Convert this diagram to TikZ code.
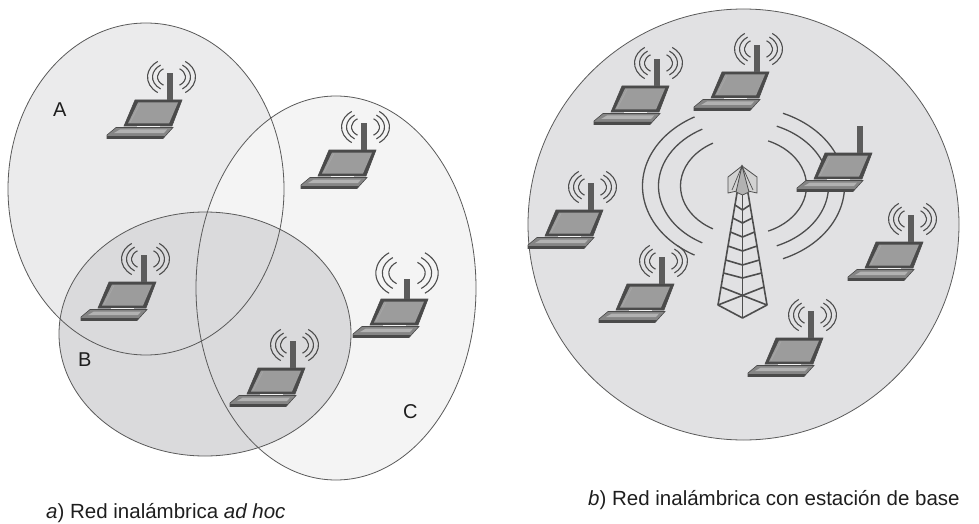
\documentclass[tikz,border=0pt]{standalone}
\usepackage{fontspec}
\setmainfont{Liberation Sans}
\definecolor{edge}{HTML}{5A5A5A}
\definecolor{fillA}{HTML}{EBEBEC}
\definecolor{fillB}{HTML}{DADADC}
\definecolor{fillC}{HTML}{F4F4F4}
\definecolor{fillD}{HTML}{E1E1E3}
\definecolor{ink}{HTML}{4D4D4D}
\definecolor{lidframe}{HTML}{4A4A4A}
\definecolor{screencol}{HTML}{9C9C9C}
\definecolor{keyscol}{HTML}{B2B2B2}
\definecolor{basecol}{HTML}{858585}
\definecolor{mastcol}{HTML}{5C5C5C}
\definecolor{textcol}{HTML}{1E1E1E}
\begin{document}
\begin{tikzpicture}[x=1pt, y=-1pt,
  zone/.style={draw=edge, line width=0.8},
  wave/.style={draw=ink, line width=1.1},
  towerline/.style={draw=ink, line width=1.6, line join=round},
  label/.style={anchor=base west, inner sep=0, text=textcol, font=\fontsize{20}{24}\selectfont},
  caption/.style={anchor=base west, inner sep=0, text=textcol, font=\fontsize{20.5}{24}\selectfont},
  pics/laptop/.style={code={
    % lid with its screen
    \filldraw[fill=lidframe, draw=lidframe, line width=0.6] (-35,0) -- (12,0) -- (2,26) -- (-46,26) -- cycle;
    \fill[screencol] (-32,2.5) -- (8,2.5) -- (-1,23.5) -- (-42,23.5) -- cycle;
    \draw[gray!70, line width=0.8] (-30,3.5) -- (-40,22.5);
    \fill[white!88!gray] (-33,26) rectangle (-10,27.5);
    % base with keyboard
    \filldraw[fill=basecol, draw=lidframe, line width=0.6] (-54,27.5) -- (3,27.5) -- (-7,38.5) -- (-63,38.5) -- (-63,35) -- cycle;
    \fill[keyscol] (-50,29.5) -- (-3,29.5) -- (-6,33) -- (-56,33) -- cycle;
    \fill[lidframe] (-63,36) -- (-5,36) -- (-7,38.5) -- (-63,38.5) -- cycle;
  }},
  pics/mast/.style={code={\fill[mastcol] (-3,-#1) rectangle (3,0);}},
  pics/waves/.style={code={
    \foreach \r/\s in {14/10, 19/14.5, 24/19} {
      \draw[wave] ({\r*cos(125)},{\s*sin(125)}) arc[start angle=125, end angle=235, x radius=\r, y radius=\s];
      \draw[wave] ({\r*cos(55)},{\s*sin(55)}) arc[start angle=55, end angle=-55, x radius=\r, y radius=\s];
    }
  }}
]
\useasboundingbox (0,0) rectangle (979,524);

% ---------- a) ad hoc network: three overlapping ranges ----------
\fill[fillA] (146,189) ellipse[x radius=138, y radius=166];
\fill[fillC] (336,288) ellipse[x radius=140, y radius=192];
\fill[fillB] (205,334) ellipse[x radius=146, y radius=122];
\draw[zone] (146,189) ellipse[x radius=138, y radius=166];
\draw[zone] (336,288) ellipse[x radius=140, y radius=192];
\draw[zone] (205,334) ellipse[x radius=146, y radius=122];

\foreach \px/\py in {170/100, 364/150, 144/282, 293/368} {
  \pic at (\px,\py) {laptop};
  \pic at (\px,\py) {mast=27};
  \pic at (\px+1.5,\py-23) {waves};
}
\pic at (416,299) {laptop};
\pic at (407,299) {mast=20};
\pic[scale=1.3] at (407,273) {waves};

\node[label] (labA) at (53,117) {A};
\node[label] (labB) at (78,366) {B};
\node[label] (labC) at (403,418) {C};

% ---------- b) network with a base station ----------
\filldraw[fill=fillD, draw=edge, line width=0.8] (743.5,224.5) circle[radius=215.5];

% radiation around the mast
\begin{scope}[shift={(743.5,186)}]
  \foreach \r/\s in {63/49, 85/65, 101/79} {
    \draw[wave, line width=1.3] ({\r*cos(119)},{\s*sin(119)}) arc[start angle=119, end angle=241, x radius=\r, y radius=\s];
    \draw[wave, line width=1.3] ({\r*cos(67)},{\s*sin(67)}) arc[start angle=67, end angle=-67, x radius=\r, y radius=\s];
  }
\end{scope}

% lattice tower
\draw[towerline] (737,193) -- (718,305) -- (742.5,318) -- (767,305) -- (748,193);
\draw[towerline] (742.5,193) -- (742.5,318);
\foreach \ry in {205,218,232,246,260,273} {
  \draw[towerline] ({737-(\ry-193)*19/112},\ry) -- (742.5,\ry+5) -- ({748+(\ry-193)*19/112},\ry);
}
\draw[towerline] ({737-(287-193)*19/112},287) -- (767,305);
\draw[towerline] ({748+(287-193)*19/112},287) -- (718,305);
% antenna panels at the top
\filldraw[fill=gray!35, draw=ink, line width=0.8] (742,166) -- (728,177) -- (728,193) -- (737,191) -- cycle;
\filldraw[fill=gray!35, draw=ink, line width=0.8] (742,166) -- (757,177) -- (757,193) -- (748,191) -- cycle;
\filldraw[fill=gray!60, draw=ink, line width=0.8] (742,166) -- (736,192) -- (742.5,195) -- (749,192) -- cycle;
\draw[ink, line width=0.7] (742,166) -- (732,190) (742,166) -- (753,190);

\foreach \px/\py in {657/86, 757/72, 591/210, 662/284, 911/242, 811/338} {
  \pic at (\px,\py) {laptop};
  \pic at (\px,\py) {mast=27};
  \pic at (\px+1.5,\py-23) {waves};
}
\pic at (860,153) {laptop};
\pic at (860,153) {mast=27};

% ---------- captions ----------
\node[caption] (capA) at (46,518) {\textit{a}) Red inalámbrica \textit{ad hoc}};
\node[caption] (capB) at (588,505) {\textit{b}) Red inalámbrica con estación de base};
\end{tikzpicture}
\end{document}
